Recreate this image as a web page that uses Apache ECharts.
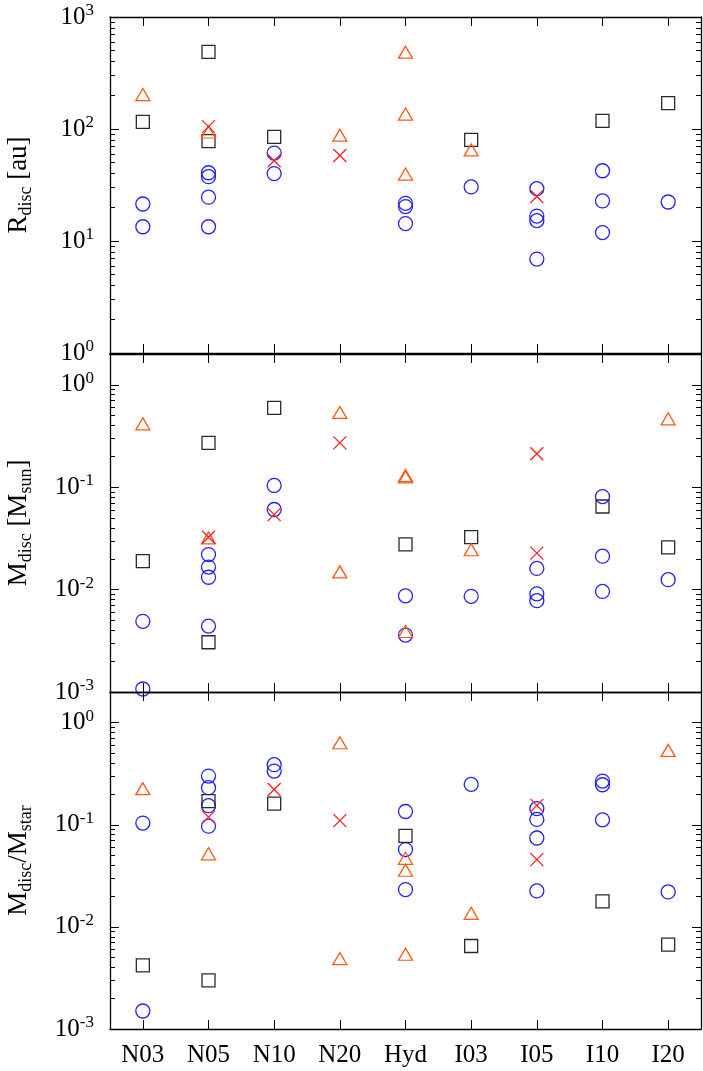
<!DOCTYPE html>
<html>
<head>
<meta charset="utf-8">
<script src="https://cdn.jsdelivr.net/npm/echarts@6/dist/echarts.min.js"></script>
<style>
  html, body { margin: 0; padding: 0; background: #fff; }
  .layer { position: absolute; left: 0; top: 0; width: 703px; height: 1071px; }
</style>
</head>
<body>
<div id="m0" class="layer"></div>
<div id="m1" class="layer"></div>
<div id="m2" class="layer"></div>
<div id="f0" class="layer"></div>
<div id="f1" class="layer"></div>
<div id="f2" class="layer"></div>
<script>
const categories = ['N03', 'N05', 'N10', 'N20', 'Hyd', 'I03', 'I05', 'I10', 'I20'];

// panel 1: R_disc [au]
const rCircles = [['N03', 21.4], ['N03', 13.4], ['N05', 40.7], ['N05', 37.5], ['N05', 24.6], ['N05', 13.4],
  ['N10', 61], ['N10', 40], ['Hyd', 21.7], ['Hyd', 20.3], ['Hyd', 14.3], ['I03', 30.4],
  ['I05', 29.3], ['I05', 16.7], ['I05', 15.2], ['I05', 6.9], ['I10', 42.4], ['I10', 22.8], ['I10', 11.9], ['I20', 22.3]];
const rSquares = [['N03', 116], ['N05', 488], ['N05', 78], ['N10', 85], ['I03', 80], ['I10', 118], ['I20', 170]];
const rTriangles = [['N03', 203], ['N05', 94], ['N20', 88], ['Hyd', 485], ['Hyd', 136], ['Hyd', 39.6], ['I03', 65]];
const rCrosses = [['N05', 105], ['N10', 52], ['N20', 58], ['I05', 25]];

// panel 2: M_disc [M_sun]
const mCircles = [['N03', 0.0049], ['N03', 0.00107], ['N05', 0.022], ['N05', 0.0166], ['N05', 0.0132], ['N05', 0.0044],
  ['N10', 0.104], ['N10', 0.0606], ['Hyd', 0.0087], ['Hyd', 0.0036], ['I03', 0.0086],
  ['I05', 0.0161], ['I05', 0.0091], ['I05', 0.0078], ['I10', 0.081], ['I10', 0.0212], ['I10', 0.0096], ['I20', 0.0125]];
const mSquares = [['N03', 0.019], ['N05', 0.271], ['N05', 0.00306], ['N10', 0.596], ['Hyd', 0.0276], ['I03', 0.0325], ['I10', 0.0648], ['I20', 0.0258]];
const mTriangles = [['N03', 0.416], ['N05', 0.032], ['N20', 0.537], ['N20', 0.0149], ['Hyd', 0.13], ['Hyd', 0.126], ['Hyd', 0.0039], ['I03', 0.0245], ['I20', 0.466]];
const mCrosses = [['N05', 0.0325], ['N10', 0.054], ['N20', 0.271], ['I05', 0.212], ['I05', 0.0227]];

// panel 3: M_disc/M_star
const fCircles = [['N03', 0.104], ['N03', 0.0015], ['N05', 0.30], ['N05', 0.231], ['N05', 0.154], ['N05', 0.097],
  ['N10', 0.388], ['N10', 0.336], ['Hyd', 0.135], ['Hyd', 0.0572], ['Hyd', 0.0232], ['I03', 0.249],
  ['I05', 0.144], ['I05', 0.113], ['I05', 0.0743], ['I05', 0.0225], ['I10', 0.268], ['I10', 0.247], ['I10', 0.112], ['I20', 0.022]];
const fSquares = [['N03', 0.0042], ['N05', 0.171], ['N05', 0.0030], ['N10', 0.161], ['Hyd', 0.0778], ['I03', 0.0065], ['I10', 0.0178], ['I20', 0.0067]];
const fTriangles = [['N03', 0.226], ['N05', 0.052], ['N20', 0.637], ['N20', 0.0049], ['Hyd', 0.047], ['Hyd', 0.0359], ['Hyd', 0.0054], ['I03', 0.0136], ['I20', 0.536]];
const fCrosses = [['N05', 0.119], ['N10', 0.222], ['N20', 0.11], ['I05', 0.155], ['I05', 0.0456]];

const FONT = 'Liberation Serif';

const marks = {
  circle: { symbol: 'circle', size: 14, color: '#2222ff' },
  square: { symbol: 'rect', size: 13, color: '#2a2a2a' },
  triangle: { symbol: 'triangle', size: [14, 12], color: '#ff5a14' },
  cross: { symbol: 'path://M0,0L13,13M13,0L0,13', size: 13, color: '#ff2020' }
};

const panels = [
  { top: 17, height: 336, min: 1, max: 1000, name: '{m|R}{s|disc}{m| [au]}',
    sets: [[rCircles, 'circle'], [rSquares, 'square'], [rTriangles, 'triangle'], [rCrosses, 'cross']] },
  { top: 354, height: 338, min: 0.001, max: 2, name: '{m|M}{s|disc}{m| [M}{s|sun}{m|]}',
    sets: [[mCircles, 'circle'], [mSquares, 'square'], [mTriangles, 'triangle'], [mCrosses, 'cross']] },
  { top: 692, height: 337, min: 0.001, max: 2, name: '{m|M}{s|disc}{m|/M}{s|star}',
    sets: [[fCircles, 'circle'], [fSquares, 'square'], [fTriangles, 'triangle'], [fCrosses, 'cross']] }
];

function expLabel(v) {
  const l = Math.log10(v);
  const e = Math.round(l);
  if (Math.abs(l - e) > 0.01) return '';
  return '{b|10}{e|' + e + '}';
}

const tickStyle = { color: '#000', width: 1 };

// marks layer: points, labels, titles
function marksOption(p, i) {
  const xAxis = ['bottom', 'top'].map(pos => ({
    type: 'category', position: pos, data: categories,
    axisLine: { show: true, lineStyle: { color: '#000', width: 1.3 } },
    axisTick: { show: false },
    axisLabel: { show: pos === 'bottom' && i === panels.length - 1, interval: 0, margin: 14, color: '#000', fontFamily: FONT, fontSize: 25 },
    splitLine: { show: false }
  }));
  const yAxis = ['left', 'right'].map(pos => ({
    type: 'log', position: pos, min: p.min, max: p.max,
    axisLine: { show: true, lineStyle: { color: '#000', width: 1.3 } },
    axisTick: { show: false },
    axisLabel: {
      show: pos === 'left', margin: 16, formatter: expLabel, color: '#000', fontFamily: FONT, fontSize: 25,
      rich: {
        b: { fontFamily: FONT, fontSize: 25, lineHeight: 30, color: '#000' },
        e: { fontFamily: FONT, fontSize: 17, lineHeight: 16, verticalAlign: 'top', color: '#000' }
      }
    },
    splitLine: { show: false }
  }));
  const series = p.sets.map(([data, kind]) => {
    const m = marks[kind];
    return {
      type: 'scatter', data: data,
      symbol: m.symbol, symbolSize: m.size, silent: true,
      itemStyle: { color: 'transparent', borderColor: m.color, borderWidth: 1.3, opacity: 1 }
    };
  });
  return {
    backgroundColor: 'transparent',
    animation: false,
    grid: [{ left: 110, right: 2, top: p.top, height: p.height, outerBoundsMode: 'none' }],
    xAxis: xAxis,
    yAxis: yAxis,
    series: series,
    graphic: [{
      type: 'text', x: 19, y: p.top + p.height / 2, rotation: Math.PI / 2, silent: true,
      style: {
        text: p.name, fill: '#000', align: 'center', verticalAlign: 'middle',
        textAlign: 'center', textVerticalAlign: 'middle',
        rich: {
          m: { fontFamily: FONT, fontSize: 27, lineHeight: 32, fill: '#000' },
          s: { fontFamily: FONT, fontSize: 18, lineHeight: 15, verticalAlign: 'bottom', fill: '#000' }
        }
      }
    }]
  };
}

// frame layer: only the tick marks on all four sides
function frameOption(p) {
  const xAxis = ['bottom', 'top'].map(pos => ({
    type: 'category', position: pos, data: categories,
    axisLine: { show: false },
    axisTick: { show: true, inside: true, alignWithLabel: true, length: 9, lineStyle: tickStyle },
    axisLabel: { show: false },
    splitLine: { show: false }
  }));
  const yAxis = ['left', 'right'].map(pos => ({
    type: 'log', position: pos, min: p.min, max: p.max,
    axisLine: { show: false },
    axisTick: { show: true, inside: true, length: 9, lineStyle: tickStyle },
    minorTick: { show: true, splitNumber: 9, length: 5, lineStyle: tickStyle },
    axisLabel: { show: false },
    splitLine: { show: false }
  }));
  return {
    backgroundColor: 'transparent',
    animation: false,
    grid: [{ left: 110, right: 2, top: p.top, height: p.height, outerBoundsMode: 'none' }],
    xAxis: xAxis,
    yAxis: yAxis,
    series: [{ type: 'scatter', data: [], silent: true }]
  };
}

panels.forEach((p, i) => {
  echarts.init(document.getElementById('m' + i)).setOption(marksOption(p, i));
  echarts.init(document.getElementById('f' + i)).setOption(frameOption(p));
});
</script>
</body>
</html>
